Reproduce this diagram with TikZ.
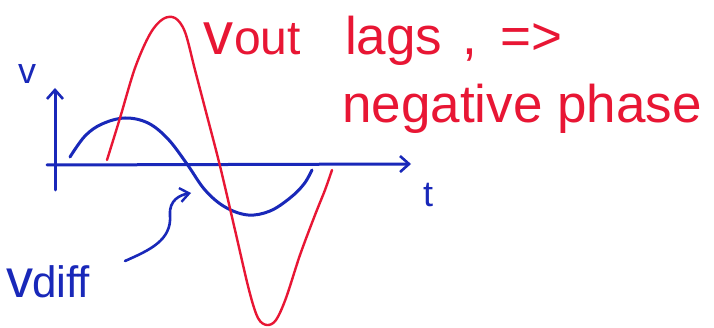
\documentclass[tikz,border=0pt]{standalone}
\usepackage{fontspec}
\setmainfont{Liberation Sans}
\usetikzlibrary{arrows.meta}
\definecolor{bluepen}{RGB}{25,40,185}
\definecolor{redpen}{RGB}{232,22,52}
\tikzset{
  bluestroke/.style={draw=bluepen, line width=3pt, line cap=round, line join=round},
  redstroke/.style={draw=redpen, line width=2.4pt, line cap=round, line join=round},
  axisarrow/.style={bluestroke, -{Straight Barb[length=9pt,width=16pt,line width=2.6pt]}},
  redtext/.style={text=redpen, inner sep=0pt, font=\fontsize{53}{58}\selectfont},
  bluetext/.style={text=bluepen, inner sep=0pt}
}
\begin{document}
\begin{tikzpicture}[x=1pt,y=-1pt]
\useasboundingbox (0,0) rectangle (714,328);
\fill[white] (0,0) rectangle (714,328);
% axes
\coordinate (xend) at (411,164);
\coordinate (xstart) at (47,165);
\coordinate (yend) at (55,88);
\coordinate (ystart) at (55,190);
\draw[axisarrow] (xstart) -- (xend);
\draw[axisarrow] (ystart) -- (yend);
\node[bluetext, font=\fontsize{36}{38}\selectfont, anchor=base] (vlab) at (27,84) {v};
\node[bluetext, font=\fontsize{36}{38}\selectfont, anchor=base] (tlab) at (428,207) {t};
% blue curve v_diff
\draw[bluestroke] plot[smooth, tension=0.6] coordinates {
 (70,157) (85,136) (102,124) (125,118) (148,123) (168,139) (187,164)
 (205,190) (225,207) (248,215) (270,211) (290,198) (304,184) (312,170)};
% red curve v_out
\draw[redstroke] plot[smooth, tension=0.55] coordinates {
 (107,160) (120,118) (135,68) (150,34) (163,19) (175,18) (185,32)
 (195,70) (206,112) (220,166) (235,230) (249,290) (258,318) (267,325)
 (276,320) (286,298) (300,255) (315,215) (325,190) (332,170)};
% texts
\node[redtext, anchor=base west] (vout) at (203,55) {\fontsize{60}{64}\selectfont v\kern1pt{\fontsize{48}{52}\selectfont out}};
\node[redtext, anchor=base west] (lags) at (345,55) {lags};
\node[redtext, anchor=base west] (comma) at (462,55) {,};
\node[redtext, anchor=base west] (impl) at (500,55) {=>};
\node[redtext, anchor=base west] (neg) at (342,123) {negative phase};
\node[bluetext, font=\fontsize{54}{58}\selectfont, anchor=base west] (vdiff) at (6,298) {v\kern-1pt{\fontsize{44}{48}\selectfont diff}};
% pointer from v_diff label to the curve
\coordinate (tail) at (125,261);
\coordinate (tip) at (191,193);
\draw[bluestroke, line width=2.6pt, -{Straight Barb[length=9pt,width=14pt,line width=2.4pt]}]
  (tail) .. controls (150,250) and (172,240) .. (170,215)
  .. controls (169,200) and (180,195) .. (tip);
\end{tikzpicture}
\end{document}
